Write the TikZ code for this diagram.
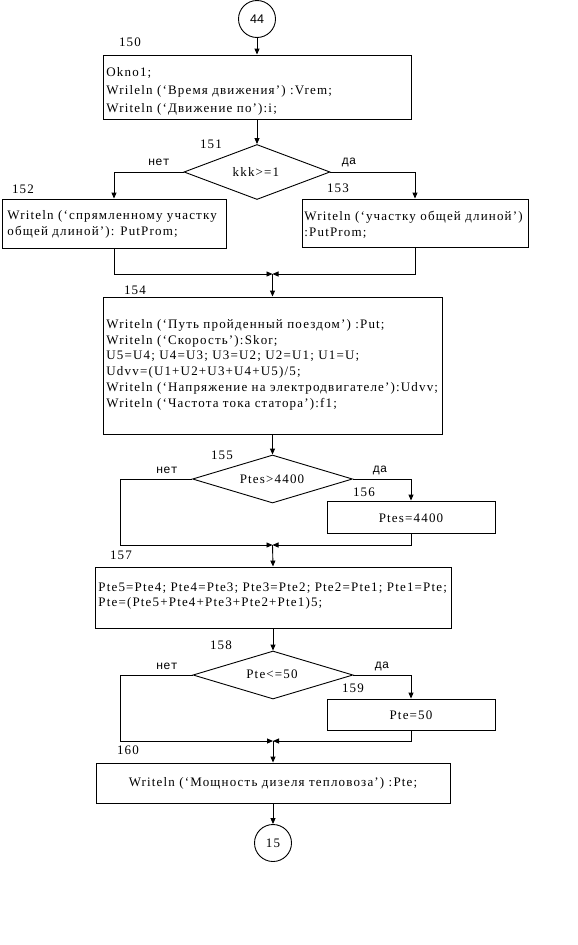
\documentclass[tikz,border=0pt]{standalone}
\usepackage{fontspec}
\setmainfont{Liberation Serif}[LetterSpace=9]
\newfontfamily\monof{Liberation Mono}
\newfontfamily\sansf{Liberation Sans}
\usetikzlibrary{arrows.meta,shapes.geometric}
\begin{document}
\begin{tikzpicture}[x=1pt,y=-1pt,line width=0.9pt,
  arr/.style={-{Triangle[length=6pt,width=5pt]}},
  box/.style={draw,inner sep=0pt,minimum width=#1},
  dia/.style={draw,diamond,inner sep=0pt},
  conn/.style={draw,circle,inner sep=0pt,minimum size=37pt},
  txt/.style={inner sep=0pt,anchor=west,align=left,font=\fontsize{13}{15.7}\selectfont},
  ctxt/.style={inner sep=0pt,font=\fontsize{13}{15}\selectfont},
  lbl/.style={inner sep=0pt,font=\fontsize{13}{15}\selectfont},
  yn/.style={inner sep=0pt,font=\monof\fontsize{12}{14}\selectfont}]
\useasboundingbox[fill=white] (0,0) rectangle (578,945);

% connector 44
\node[conn,font=\sansf\fontsize{12.5}{15}\selectfont] (c44) at (257,19) {44};

% box 150
\node[box=308,minimum height=64] (b150) at (257,87) {};
\node[txt,font=\fontsize{13}{18}\selectfont] (t150) at (106,91) {Okno1;\\Wrileln (‘Время движения’) :Vrem;\\Writeln (‘Движение по’):i;};
\node[lbl] (l150) at (130,42) {150};

% diamond 151
\node[dia,minimum width=146,minimum height=55] (d151) at (257,172) {};
\node[ctxt] (t151) at (256,172) {kkk>=1};
\node[lbl] (l151) at (211,144) {151};
\node[yn] (n151) at (159,162) {нет};
\node[yn] (y151) at (349,162) {да};

% boxes 152,153
\node[box=224,minimum height=49] (b152) at (114,223.5) {};
\node[txt] (t152) at (7,224.5) {Writeln (‘спрямленному участку\\общей длиной’): PutProm;};
\node[lbl] (l152) at (23,189) {152};
\node[box=226,minimum height=48] (b153) at (415,223) {};
\node[txt] (t153) at (304,224.5) {Writeln (‘участку общей длиной’)\\:PutProm;};
\node[lbl] (l153) at (338,188) {153};
\coordinate (m1) at (272.5,274);

% box 154
\node[box=339,minimum height=137] (b154) at (272.5,365.5) {};
\node[txt] (t154) at (106,364.7) {Writeln (‘Путь пройденный поездом’) :Put;\\Writeln (‘Скорость’):Skor;\\U5=U4; U4=U3; U3=U2; U2=U1; U1=U;\\Udvv=(U1+U2+U3+U4+U5)/5;\\Writeln (‘Напряжение на электродвигателе’):Udvv;\\Writeln (‘Частота тока статора’):f1;};
\node[lbl] (l154) at (135,290) {154};

% diamond 155
\node[dia,minimum width=160,minimum height=48] (d155) at (272.5,479) {};
\node[ctxt] (t155) at (272,479) {Ptes>4400};
\node[lbl] (l155) at (222,455) {155};
\node[yn] (n155) at (167,470) {нет};
\node[yn] (y155) at (380,470) {да};
\node[box=168,minimum height=32] (b156) at (411,517) {};
\node[ctxt] (t156) at (411,518) {Ptes=4400};
\node[lbl] (l156) at (364,492) {156};
\coordinate (k2) at (120,545);
\coordinate (m2) at (272.5,545);

% box 157
\node[box=356,minimum height=61] (b157) at (273,597.5) {};
\node[txt] (t157) at (98,596) {Pte5=Pte4; Pte4=Pte3; Pte3=Pte2; Pte2=Pte1; Pte1=Pte;\\Pte=(Pte5+Pte4+Pte3+Pte2+Pte1)5;};
\node[lbl] (l157) at (121,555) {157};

% diamond 158
\node[dia,minimum width=160,minimum height=48] (d158) at (273,675) {};
\node[ctxt] (t158) at (272,674) {Pte<=50};
\node[lbl] (l158) at (221,645) {158};
\node[yn] (n158) at (167,666) {нет};
\node[yn] (y158) at (382,666) {да};
\node[box=168,minimum height=31] (b159) at (411,714.5) {};
\node[ctxt] (t159) at (411,715) {Pte=50};
\node[lbl] (l159) at (353,688) {159};
\coordinate (k3) at (120,741);
\coordinate (m3) at (273,741);

% box 160
\node[box=354,minimum height=40] (b160) at (273,783) {};
\node[ctxt] (t160) at (273,783) {Writeln (‘Мощность дизеля тепловоза’) :Pte;};
\node[lbl] (l160) at (128,750) {160};

% connector 15
\node[conn,font=\fontsize{13}{15}\selectfont] (c15) at (273,843) {15};

% connectors
\draw[arr] (c44.south) -- (b150.north);
\draw[arr] (b150.south) -- (d151.north);
\draw[arr] (d151.west) -| (b152.north);
\draw[arr] (d151.east) -| (b153.north);
\draw[arr] (b152.south) |- (m1);
\draw[arr] (b153.south) |- (m1);
\draw[arr] (m1) -- (b154.north);
\draw[arr] (b154.south) -- (d155.north);
\draw[arr] (d155.west) -| (k2) -- (m2);
\draw[arr] (d155.east) -| (b156.north);
\draw[arr] (b156.south) |- (m2);
\draw[arr] (m2) -- (b157.north);
\draw[arr] (b157.south) -- (d158.north);
\draw[arr] (d158.west) -| (k3) -- (m3);
\draw[arr] (d158.east) -| (b159.north);
\draw[arr] (b159.south) |- (m3);
\draw[arr] (m3) -- (b160.north);
\draw[arr] (b160.south) -- (c15.north);
\end{tikzpicture}
\end{document}
